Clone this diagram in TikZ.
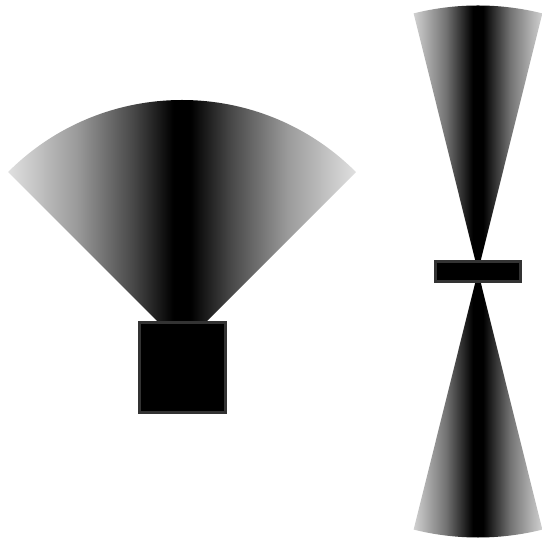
\documentclass[tikz,border=0pt]{standalone}
\pgfdeclarehorizontalshading{fanshade}{100bp}{color(0bp)=(black!12); color(25bp)=(black!12); color(35bp)=(black!40); color(43bp)=(black!72); color(48.75bp)=(black); color(51.25bp)=(black); color(57bp)=(black!72); color(65bp)=(black!40); color(75bp)=(black!12); color(100bp)=(black!12)}
\pgfdeclarehorizontalshading{coneshade}{100bp}{color(0bp)=(black!18); color(25bp)=(black!18); color(37.5bp)=(black!55); color(48bp)=(black); color(52bp)=(black); color(62.5bp)=(black!55); color(75bp)=(black!18); color(100bp)=(black!18)}
\begin{document}
\begin{tikzpicture}[x=1pt,y=1pt,
    block/.style={draw=black!80,line width=3pt,fill=black,inner sep=0pt}]
        \useasboundingbox (0,0) rectangle (545,540);
        % Apexes of the beams
        \coordinate (fanapex) at (182,194);
        \coordinate (coneapex) at (478,268.5);
        % Draw the wide fan
        \shade[shading=fanshade] (fanapex) -- ++(45:246pt) arc[start angle=45,end angle=135,radius=246pt] -- cycle;
        % Draw the narrow cones
        \shade[shading=coneshade] (coneapex) -- ++(76:266pt) arc[start angle=76,end angle=104,radius=266pt] -- cycle;
        \shade[shading=coneshade] (coneapex) -- ++(-104:266pt) arc[start angle=-104,end angle=-76,radius=266pt] -- cycle;
        % Draw the emitters
        \node[block,minimum width=86pt,minimum height=90pt] (base) at (182.5,172.5) {};
        \node[block,minimum width=85pt,minimum height=20pt] (bar) at (coneapex) {};
    \end{tikzpicture}
\end{document}
